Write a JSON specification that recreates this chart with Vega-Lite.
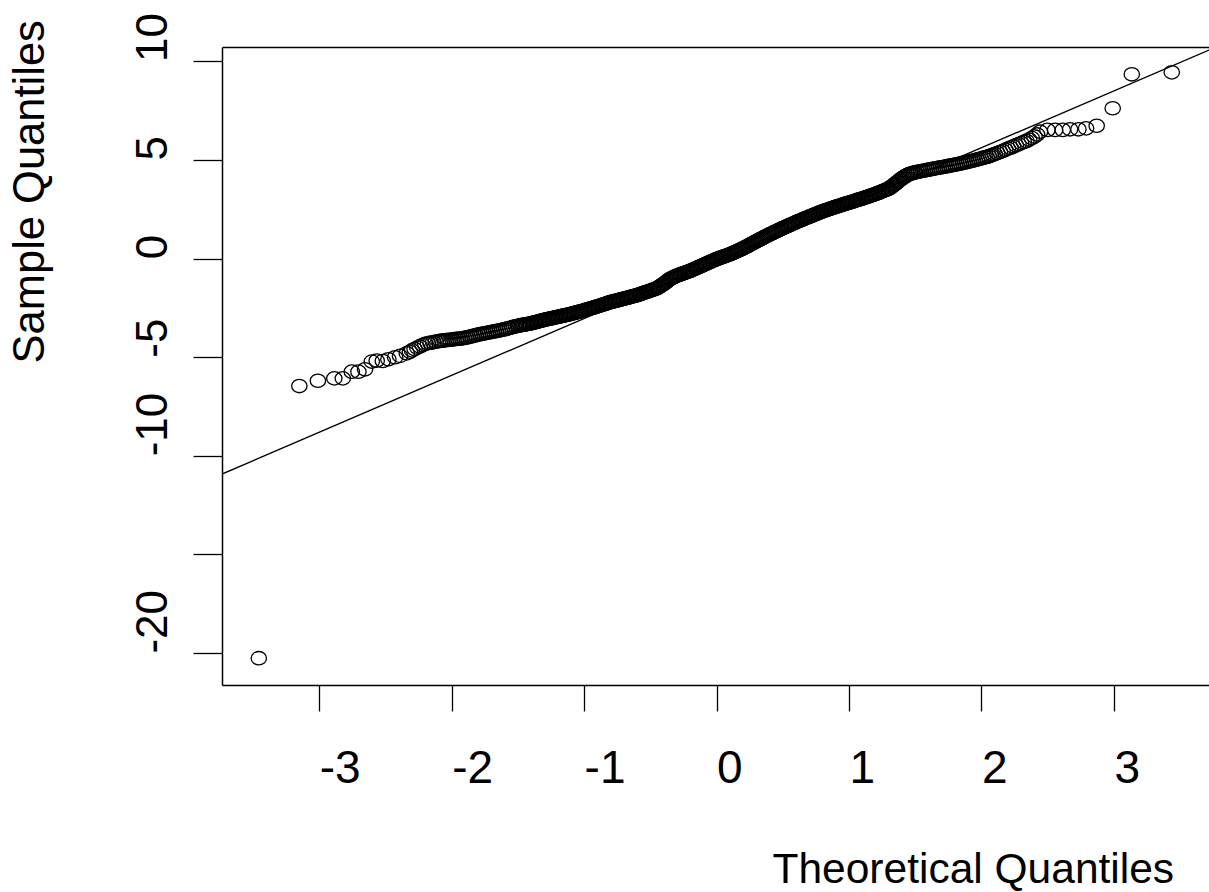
{
"$schema":"https://vega.github.io/schema/vega-lite/v6.json",
"width":987,"height":638,
"padding":{"left":222,"top":47,"right":0,"bottom":207},
"autosize":{"type":"none"},
"background":"white",
"config":{"view":{"stroke":null},"axis":{"grid":false}},
"datasets":{
"qq":[{"x":-3.734,"y":-10.92},{"x":3.718,"y":10.58}],
"pts":[
{"x":-3.456,"y":-20.26},{"x":-3.15,"y":-6.46},{"x":-3.01,"y":-6.19},{"x":-2.886,"y":-6.07},{"x":-2.822,"y":-6.07},{"x":-2.754,"y":-5.73},{"x":-2.704,"y":-5.73},{"x":-2.654,"y":-5.61},{"x":-2.603,"y":-5.22},{"x":-2.566,"y":-5.17},{"x":-2.52,"y":-5.19},{"x":-2.478,"y":-5.1},{"x":-2.427,"y":-5.0},{"x":-2.39,"y":-4.93},{"x":-2.339,"y":-4.8},{"x":-2.315,"y":-4.72},
{"x":-2.3,"y":-4.65},{"x":-2.28,"y":-4.58},{"x":-2.26,"y":-4.51},{"x":-2.24,"y":-4.45},{"x":-2.22,"y":-4.38},{"x":-2.2,"y":-4.32},{"x":-2.18,"y":-4.29},{"x":-2.16,"y":-4.26},{"x":-2.14,"y":-4.24},{"x":-2.12,"y":-4.21},{"x":-2.1,"y":-4.18},
{"x":-2.085,"y":-4.17},{"x":-2.07,"y":-4.16},{"x":-2.055,"y":-4.14},{"x":-2.04,"y":-4.13},{"x":-2.025,"y":-4.12},{"x":-2.01,"y":-4.11},{"x":-1.995,"y":-4.1},{"x":-1.98,"y":-4.08},{"x":-1.965,"y":-4.07},{"x":-1.95,"y":-4.06},{"x":-1.935,"y":-4.05},{"x":-1.92,"y":-4.04},{"x":-1.905,"y":-4.02},{"x":-1.89,"y":-4.0},{"x":-1.875,"y":-3.98},{"x":-1.86,"y":-3.95},{"x":-1.845,"y":-3.93},{"x":-1.83,"y":-3.9},{"x":-1.815,"y":-3.88},{"x":-1.8,"y":-3.85},{"x":-1.785,"y":-3.83},{"x":-1.77,"y":-3.81},{"x":-1.755,"y":-3.79},{"x":-1.74,"y":-3.77},{"x":-1.725,"y":-3.75},{"x":-1.71,"y":-3.73},{"x":-1.695,"y":-3.71},{"x":-1.68,"y":-3.69},{"x":-1.665,"y":-3.67},{"x":-1.65,"y":-3.65},{"x":-1.635,"y":-3.63},{"x":-1.62,"y":-3.61},{"x":-1.605,"y":-3.59},{"x":-1.59,"y":-3.56},{"x":-1.575,"y":-3.53},{"x":-1.56,"y":-3.51},{"x":-1.545,"y":-3.48},{"x":-1.53,"y":-3.45},{"x":-1.515,"y":-3.43},
{"x":-1.5,"y":-3.4},{"x":-1.49,"y":-3.39},{"x":-1.48,"y":-3.38},{"x":-1.47,"y":-3.36},{"x":-1.46,"y":-3.35},{"x":-1.45,"y":-3.34},{"x":-1.44,"y":-3.33},{"x":-1.43,"y":-3.32},{"x":-1.42,"y":-3.3},{"x":-1.41,"y":-3.29},
{"x":-1.4,"y":-3.28},{"x":-1.39,"y":-3.26},{"x":-1.38,"y":-3.24},{"x":-1.37,"y":-3.23},{"x":-1.36,"y":-3.21},{"x":-1.35,"y":-3.19},{"x":-1.34,"y":-3.17},{"x":-1.33,"y":-3.15},{"x":-1.32,"y":-3.14},{"x":-1.31,"y":-3.12},
{"x":-1.3,"y":-3.1},{"x":-1.29,"y":-3.09},{"x":-1.28,"y":-3.07},{"x":-1.27,"y":-3.06},{"x":-1.26,"y":-3.04},{"x":-1.25,"y":-3.03},{"x":-1.24,"y":-3.01},{"x":-1.23,"y":-3.0},{"x":-1.22,"y":-2.98},{"x":-1.21,"y":-2.97},
{"x":-1.2,"y":-2.95},{"x":-1.19,"y":-2.94},{"x":-1.18,"y":-2.92},{"x":-1.17,"y":-2.91},{"x":-1.16,"y":-2.89},{"x":-1.15,"y":-2.88},{"x":-1.14,"y":-2.86},{"x":-1.13,"y":-2.85},{"x":-1.12,"y":-2.83},{"x":-1.11,"y":-2.82},
{"x":-1.1,"y":-2.8},{"x":-1.09,"y":-2.78},{"x":-1.08,"y":-2.76},{"x":-1.07,"y":-2.75},{"x":-1.06,"y":-2.73},{"x":-1.05,"y":-2.71},{"x":-1.04,"y":-2.69},{"x":-1.03,"y":-2.67},{"x":-1.02,"y":-2.66},{"x":-1.01,"y":-2.64},
{"x":-1.0,"y":-2.62},{"x":-0.99,"y":-2.6},{"x":-0.98,"y":-2.58},{"x":-0.97,"y":-2.56},{"x":-0.96,"y":-2.54},{"x":-0.95,"y":-2.52},{"x":-0.94,"y":-2.5},{"x":-0.93,"y":-2.48},{"x":-0.92,"y":-2.46},{"x":-0.91,"y":-2.44},
{"x":-0.9,"y":-2.42},{"x":-0.89,"y":-2.4},{"x":-0.88,"y":-2.38},{"x":-0.87,"y":-2.35},{"x":-0.86,"y":-2.33},{"x":-0.85,"y":-2.31},{"x":-0.84,"y":-2.29},{"x":-0.83,"y":-2.27},{"x":-0.82,"y":-2.24},{"x":-0.81,"y":-2.22},
{"x":-0.8,"y":-2.2},{"x":-0.79,"y":-2.18},{"x":-0.78,"y":-2.17},{"x":-0.77,"y":-2.15},{"x":-0.76,"y":-2.13},{"x":-0.75,"y":-2.12},{"x":-0.74,"y":-2.1},{"x":-0.73,"y":-2.08},{"x":-0.72,"y":-2.06},{"x":-0.71,"y":-2.05},
{"x":-0.7,"y":-2.03},{"x":-0.69,"y":-2.01},{"x":-0.68,"y":-1.99},{"x":-0.67,"y":-1.98},{"x":-0.66,"y":-1.96},{"x":-0.65,"y":-1.94},{"x":-0.64,"y":-1.92},{"x":-0.63,"y":-1.9},{"x":-0.62,"y":-1.89},{"x":-0.61,"y":-1.87},
{"x":-0.6,"y":-1.85},{"x":-0.59,"y":-1.83},{"x":-0.58,"y":-1.8},{"x":-0.57,"y":-1.78},{"x":-0.56,"y":-1.76},{"x":-0.55,"y":-1.73},{"x":-0.54,"y":-1.71},{"x":-0.53,"y":-1.69},{"x":-0.52,"y":-1.67},{"x":-0.51,"y":-1.64},
{"x":-0.5,"y":-1.62},{"x":-0.49,"y":-1.6},{"x":-0.48,"y":-1.57},{"x":-0.47,"y":-1.55},{"x":-0.46,"y":-1.52},
{"x":-0.45,"y":-1.5},{"x":-0.44,"y":-1.46},{"x":-0.43,"y":-1.41},{"x":-0.42,"y":-1.37},{"x":-0.41,"y":-1.32},
{"x":-0.4,"y":-1.28},{"x":-0.39,"y":-1.23},{"x":-0.38,"y":-1.18},{"x":-0.37,"y":-1.12},{"x":-0.36,"y":-1.07},
{"x":-0.35,"y":-1.02},{"x":-0.34,"y":-0.99},{"x":-0.33,"y":-0.96},{"x":-0.32,"y":-0.92},{"x":-0.31,"y":-0.89},
{"x":-0.3,"y":-0.86},{"x":-0.29,"y":-0.84},{"x":-0.28,"y":-0.81},{"x":-0.27,"y":-0.79},{"x":-0.26,"y":-0.76},{"x":-0.25,"y":-0.74},{"x":-0.24,"y":-0.72},{"x":-0.23,"y":-0.69},{"x":-0.22,"y":-0.67},{"x":-0.21,"y":-0.64},
{"x":-0.2,"y":-0.62},{"x":-0.19,"y":-0.59},{"x":-0.18,"y":-0.56},{"x":-0.17,"y":-0.53},{"x":-0.16,"y":-0.5},{"x":-0.15,"y":-0.47},{"x":-0.14,"y":-0.44},{"x":-0.13,"y":-0.41},{"x":-0.12,"y":-0.38},{"x":-0.11,"y":-0.35},
{"x":-0.1,"y":-0.32},{"x":-0.09,"y":-0.29},{"x":-0.08,"y":-0.26},{"x":-0.07,"y":-0.23},{"x":-0.06,"y":-0.2},{"x":-0.05,"y":-0.17},{"x":-0.04,"y":-0.14},{"x":-0.03,"y":-0.11},{"x":-0.02,"y":-0.08},{"x":-0.01,"y":-0.05},
{"x":0.0,"y":-0.02},{"x":0.01,"y":0.0},{"x":0.02,"y":0.03},{"x":0.03,"y":0.05},{"x":0.04,"y":0.08},{"x":0.05,"y":0.1},{"x":0.06,"y":0.12},{"x":0.07,"y":0.15},{"x":0.08,"y":0.17},{"x":0.09,"y":0.2},
{"x":0.1,"y":0.22},{"x":0.11,"y":0.25},{"x":0.12,"y":0.28},{"x":0.13,"y":0.31},{"x":0.14,"y":0.34},{"x":0.15,"y":0.37},{"x":0.16,"y":0.4},{"x":0.17,"y":0.43},{"x":0.18,"y":0.46},{"x":0.19,"y":0.49},
{"x":0.2,"y":0.52},{"x":0.21,"y":0.56},{"x":0.22,"y":0.59},{"x":0.23,"y":0.63},{"x":0.24,"y":0.66},{"x":0.25,"y":0.7},{"x":0.26,"y":0.74},{"x":0.27,"y":0.77},{"x":0.28,"y":0.81},{"x":0.29,"y":0.84},
{"x":0.3,"y":0.88},{"x":0.31,"y":0.92},{"x":0.32,"y":0.95},{"x":0.33,"y":0.99},{"x":0.34,"y":1.02},{"x":0.35,"y":1.06},{"x":0.36,"y":1.09},{"x":0.37,"y":1.13},{"x":0.38,"y":1.16},{"x":0.39,"y":1.2},
{"x":0.4,"y":1.23},{"x":0.41,"y":1.26},{"x":0.42,"y":1.29},{"x":0.43,"y":1.33},{"x":0.44,"y":1.36},{"x":0.45,"y":1.39},{"x":0.46,"y":1.42},{"x":0.47,"y":1.45},{"x":0.48,"y":1.49},{"x":0.49,"y":1.52},
{"x":0.5,"y":1.55},{"x":0.51,"y":1.58},{"x":0.52,"y":1.61},{"x":0.53,"y":1.64},{"x":0.54,"y":1.67},{"x":0.55,"y":1.7},{"x":0.56,"y":1.73},{"x":0.57,"y":1.76},{"x":0.58,"y":1.79},{"x":0.59,"y":1.82},
{"x":0.6,"y":1.85},{"x":0.61,"y":1.88},{"x":0.62,"y":1.91},{"x":0.63,"y":1.93},{"x":0.64,"y":1.96},{"x":0.65,"y":1.99},{"x":0.66,"y":2.02},{"x":0.67,"y":2.05},{"x":0.68,"y":2.07},{"x":0.69,"y":2.1},
{"x":0.7,"y":2.13},{"x":0.71,"y":2.16},{"x":0.72,"y":2.18},{"x":0.73,"y":2.21},{"x":0.74,"y":2.24},{"x":0.75,"y":2.27},{"x":0.76,"y":2.29},{"x":0.77,"y":2.32},{"x":0.78,"y":2.35},{"x":0.79,"y":2.37},
{"x":0.8,"y":2.4},{"x":0.81,"y":2.42},{"x":0.82,"y":2.45},{"x":0.83,"y":2.47},{"x":0.84,"y":2.49},{"x":0.85,"y":2.52},{"x":0.86,"y":2.54},{"x":0.87,"y":2.56},{"x":0.88,"y":2.58},{"x":0.89,"y":2.61},
{"x":0.9,"y":2.63},{"x":0.91,"y":2.65},{"x":0.92,"y":2.67},{"x":0.93,"y":2.69},{"x":0.94,"y":2.71},{"x":0.95,"y":2.74},{"x":0.96,"y":2.76},{"x":0.97,"y":2.78},{"x":0.98,"y":2.8},{"x":0.99,"y":2.82},
{"x":1.0,"y":2.84},{"x":1.01,"y":2.86},{"x":1.02,"y":2.88},{"x":1.03,"y":2.9},{"x":1.04,"y":2.92},{"x":1.05,"y":2.95},{"x":1.06,"y":2.97},{"x":1.07,"y":2.99},{"x":1.08,"y":3.01},{"x":1.09,"y":3.03},
{"x":1.1,"y":3.05},{"x":1.11,"y":3.07},{"x":1.12,"y":3.1},{"x":1.13,"y":3.12},{"x":1.14,"y":3.14},{"x":1.15,"y":3.17},{"x":1.16,"y":3.19},{"x":1.17,"y":3.21},{"x":1.18,"y":3.23},{"x":1.19,"y":3.26},
{"x":1.2,"y":3.28},{"x":1.21,"y":3.31},{"x":1.22,"y":3.33},{"x":1.23,"y":3.36},{"x":1.24,"y":3.39},{"x":1.25,"y":3.42},{"x":1.26,"y":3.44},{"x":1.27,"y":3.47},{"x":1.28,"y":3.5},{"x":1.29,"y":3.52},
{"x":1.3,"y":3.55},{"x":1.31,"y":3.6},{"x":1.32,"y":3.65},{"x":1.33,"y":3.7},{"x":1.34,"y":3.75},
{"x":1.35,"y":3.8},{"x":1.36,"y":3.86},{"x":1.37,"y":3.91},{"x":1.38,"y":3.97},{"x":1.39,"y":4.02},
{"x":1.4,"y":4.08},{"x":1.41,"y":4.12},{"x":1.42,"y":4.16},{"x":1.43,"y":4.2},{"x":1.44,"y":4.24},
{"x":1.45,"y":4.28},{"x":1.46,"y":4.3},{"x":1.47,"y":4.32},{"x":1.48,"y":4.34},{"x":1.49,"y":4.36},{"x":1.5,"y":4.38},
{"x":1.515,"y":4.4},{"x":1.53,"y":4.42},{"x":1.545,"y":4.44},{"x":1.56,"y":4.46},{"x":1.575,"y":4.48},{"x":1.59,"y":4.5},{"x":1.605,"y":4.52},{"x":1.62,"y":4.54},{"x":1.635,"y":4.56},{"x":1.65,"y":4.58},{"x":1.665,"y":4.6},{"x":1.68,"y":4.62},{"x":1.695,"y":4.63},{"x":1.71,"y":4.65},{"x":1.725,"y":4.67},{"x":1.74,"y":4.69},{"x":1.755,"y":4.71},{"x":1.77,"y":4.73},{"x":1.785,"y":4.75},{"x":1.8,"y":4.77},{"x":1.815,"y":4.79},{"x":1.83,"y":4.81},{"x":1.845,"y":4.83},{"x":1.86,"y":4.86},{"x":1.875,"y":4.88},{"x":1.89,"y":4.9},{"x":1.905,"y":4.93},{"x":1.92,"y":4.95},{"x":1.935,"y":4.98},{"x":1.95,"y":5.0},{"x":1.965,"y":5.03},{"x":1.98,"y":5.05},{"x":1.995,"y":5.08},{"x":2.01,"y":5.11},{"x":2.025,"y":5.14},{"x":2.04,"y":5.16},{"x":2.055,"y":5.19},{"x":2.07,"y":5.23},{"x":2.085,"y":5.27},{"x":2.1,"y":5.31},
{"x":2.12,"y":5.36},{"x":2.14,"y":5.41},{"x":2.16,"y":5.46},{"x":2.18,"y":5.52},{"x":2.2,"y":5.58},{"x":2.22,"y":5.63},{"x":2.24,"y":5.69},{"x":2.26,"y":5.75},{"x":2.28,"y":5.8},{"x":2.3,"y":5.86},{"x":2.32,"y":5.92},{"x":2.34,"y":5.97},{"x":2.36,"y":6.04},{"x":2.38,"y":6.12},{"x":2.4,"y":6.2},{"x":2.42,"y":6.3},
{"x":2.442,"y":6.44},{"x":2.498,"y":6.53},{"x":2.556,"y":6.53},{"x":2.614,"y":6.53},{"x":2.669,"y":6.56},{"x":2.732,"y":6.56},{"x":2.79,"y":6.61},{"x":2.87,"y":6.74},{"x":2.991,"y":7.63},{"x":3.135,"y":9.35},{"x":3.437,"y":9.45}
]},
"encoding":{
"y":{"field":"y","type":"quantitative","scale":{"domain":[-21.62,10.735],"nice":false,"zero":false},
"axis":{"orient":"left","values":[-20,-15,-10,-5,0,5,10],"labelExpr":"datum.value == -15 ? '' : '' + datum.value",
"domain":true,"domainColor":"black","domainWidth":1.5,"ticks":true,"tickColor":"black","tickWidth":1.3,"tickSize":29,
"labelFont":"Liberation Sans","labelFontSize":44,"labelColor":"black","labelAngle":-90,"labelAlign":"left","labelBaseline":"alphabetic","labelPadding":27,"labelFlush":false,"labelOverlap":false,"labelBound":false,
"title":"Sample Quantiles","titleFont":"Liberation Sans","titleFontSize":43.5,"titleFontWeight":"normal","titleColor":"black","titleAngle":-90,"titleAlign":"left","titleBaseline":"alphabetic","titleX":-178.5,"titleY":316}}
},
"layer":[
{"data":{"name":"pts"},
"mark":{"type":"point","shape":"M-1,0C-1,-0.48,-0.552,-0.87,0,-0.87C0.552,-0.87,1,-0.48,1,0C1,0.48,0.552,0.87,0,0.87C-0.552,0.87,-1,0.48,-1,0Z","size":237,"filled":false,"color":"black","strokeWidth":1.3,"opacity":1},
"encoding":{"x":{"field":"x","type":"quantitative","scale":{"domain":[-3.734,3.718],"nice":false,"zero":false},
"axis":{"orient":"bottom","values":[-3,-2,-1,0,1,2,3],"labelExpr":"'' + datum.value",
"domain":true,"domainColor":"black","domainWidth":1.5,"ticks":true,"tickColor":"black","tickWidth":1.3,"tickSize":26,
"labelFont":"Liberation Sans","labelFontSize":46,"labelColor":"black","labelAngle":0,"labelAlign":"left","labelBaseline":"alphabetic","labelPadding":71,"labelFlush":false,"labelOverlap":false,"labelBound":false,
"title":"Theoretical Quantiles","titleFont":"Liberation Sans","titleFontSize":42.5,"titleFontWeight":"normal","titleColor":"black","titleAngle":0,"titleAlign":"left","titleBaseline":"alphabetic","titleX":550,"titleY":197}}}},
{"data":{"name":"qq"},
"mark":{"type":"line","color":"black","strokeWidth":1.4,"clip":true},
"encoding":{"x":{"field":"x","type":"quantitative","scale":{"domain":[-3.734,3.718],"nice":false,"zero":false},
"axis":{"orient":"top","domain":true,"domainColor":"black","domainWidth":1.5,"ticks":false,"labels":false,"title":null}}}}
],
"resolve":{"axis":{"x":"independent"}}
}
